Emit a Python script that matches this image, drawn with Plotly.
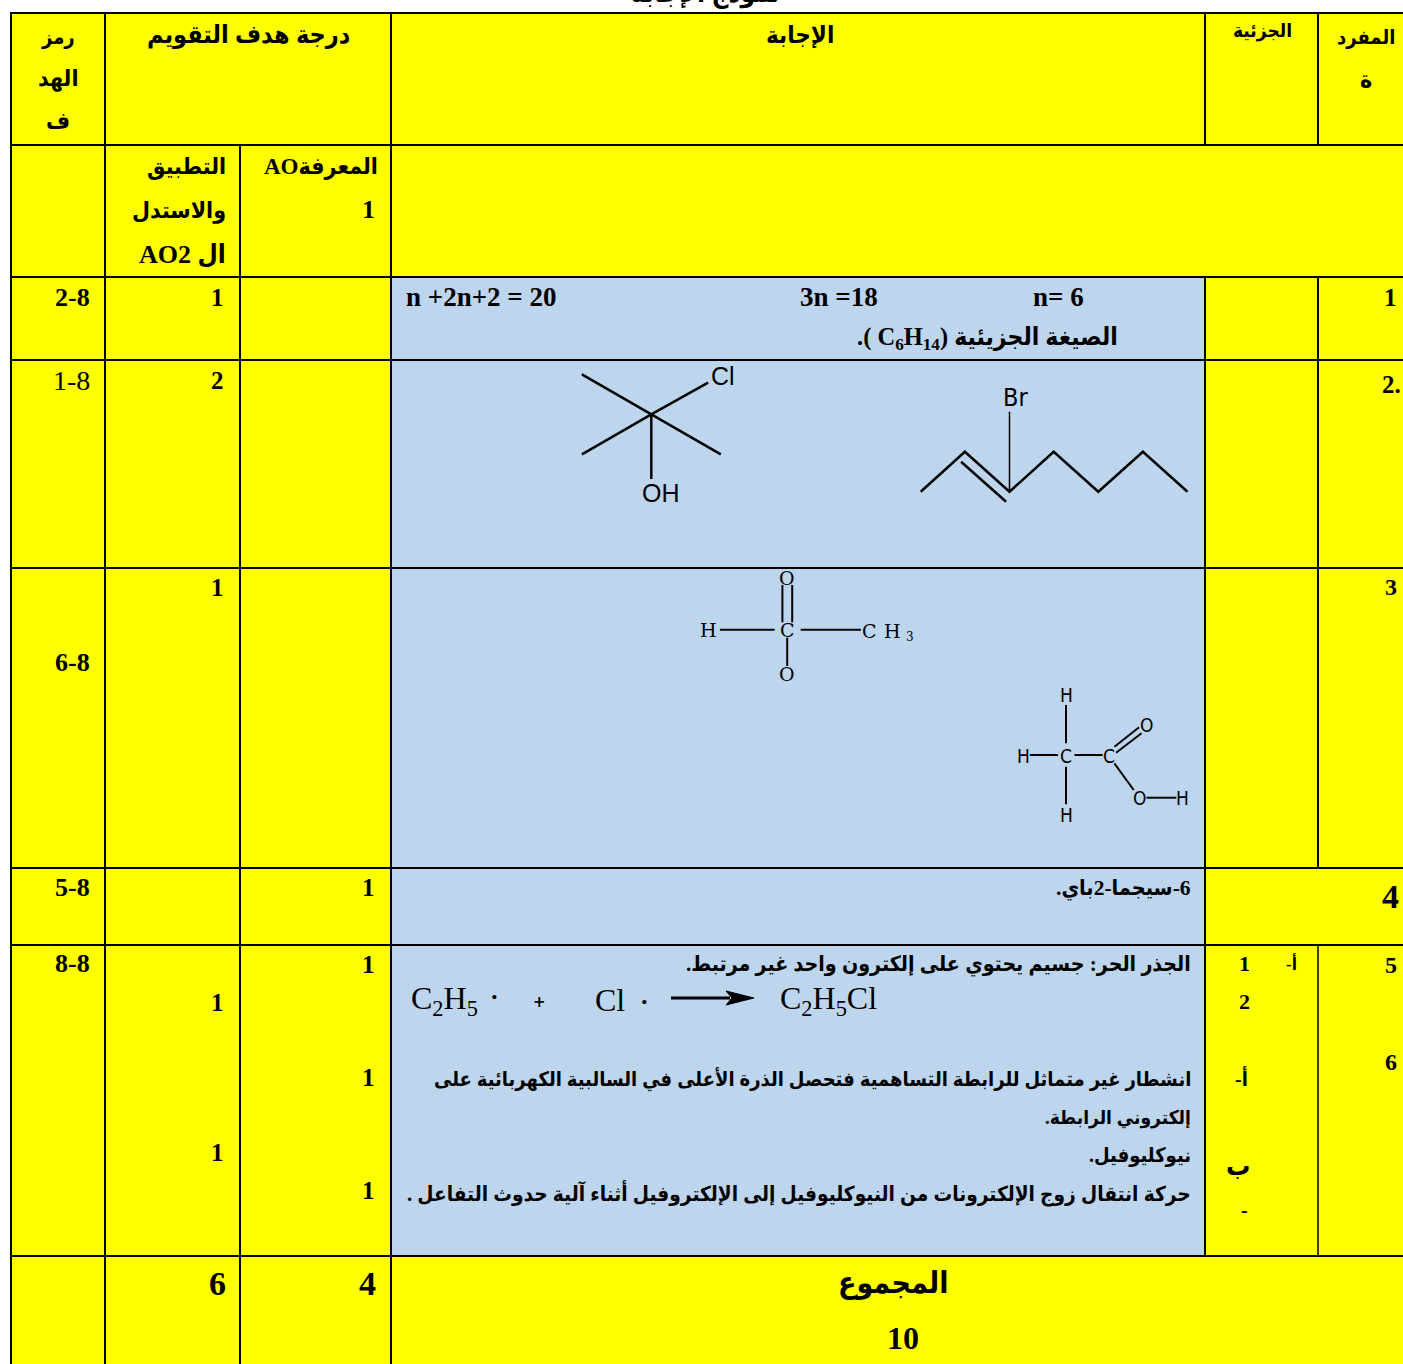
import plotly.graph_objects as go

# ---------- table structure (pixel grid) ----------
COL_EDGES = [11, 105, 240, 391, 1205, 1318, 1403]
ROW_EDGES = [13, 145, 277, 360, 568, 868, 945, 1256, 1364]
# vertical rule x-positions by row
RULES_BY_ROW = [
    [11, 105, 391, 1205, 1318],
    [11, 105, 240, 391],
    [11, 105, 240, 391, 1205, 1318],
    [11, 105, 240, 391, 1205, 1318],
    [11, 105, 240, 391, 1205, 1318],
    [11, 105, 240, 391, 1205],
    [11, 105, 240, 391, 1205, 1318],
    [11, 105, 240, 391],
]
BLUE_ROWS = [2, 3, 4, 5, 6]

YELLOW = "#FFFF00"
BLUE = "#BDD6EE"
SERIF = "Liberation Serif, DejaVu Sans Condensed, DejaVu Sans"
SANS = "Liberation Sans"
NARROW = "DejaVu Sans Condensed, Liberation Sans"
WIDE = "DejaVu Serif"

# ---------- texts ----------
TITLE = "نموذج الإجابة"
H_CODE = ["رمز", "الهد", "ف"]
H_GRADE = "درجة هدف التقويم"
H_ANSWER = "الإجابة"
H_PART = "الجزئية"
H_ITEM = ["المفرد", "ة"]
H_AO1 = ["المعرفةAO", "1"]
H_AO2 = ["التطبيق", "والاستدل", "ال AO2"]
CODES = ["2-8", "1-8", "6-8", "5-8", "8-8"]
ITEMS = ["1", "2.", "3", "4", "5", "6"]
EQ = ["n +2n+2 = 20", "3n =18", "n= 6"]
FORMULA = "الصيغة الجزيئية (C<sub>6</sub>H<sub>14</sub> )."
SIGMA = "6-سيجما-2باي."
RADICAL = "الجذر الحر: جسيم يحتوي على إلكترون واحد غير مرتبط."
HETERO = ["انشطار غير متماثل للرابطة التساهمية فتحصل الذرة الأعلى في السالبية الكهربائية على",
          "إلكتروني الرابطة."]
NUCLEO = "نيوكليوفيل."
MECH = "حركة انتقال زوج الإلكترونات من النيوكليوفيل إلى الإلكتروفيل أثناء آلية حدوث التفاعل ."
TOTAL_LABEL = "المجموع"
TOTAL = ["6", "4", "10"]

# ---------- molecule bonds: [(x, y), ...] polylines ----------
THICK_BONDS = [
    [(581.9, 374.3), (651.3, 414.3), (720.8, 454.3)],
    [(581.9, 454.3), (651.3, 414.3), (708.1, 382.7)],
    [(651.3, 414.3), (651.3, 479)],
    [(920.7, 491.7), (964.9, 451.7), (1009.5, 491.7), (1053.7, 451.7),
     (1098.3, 491.7), (1142.9, 451.7), (1187.5, 491.7)],
    [(961.1, 461.7), (1006.1, 501.7)],
]
MID_BONDS = [
    [(782.4, 585), (782.4, 622.3)],
    [(792.2, 585), (792.2, 622.3)],
    [(719.9, 629.7), (774.7, 629.7)],
    [(800.7, 629.7), (860.9, 629.7)],
    [(787.2, 637.7), (787.2, 666)],
    [(1066, 705), (1066, 743.3)],
    [(1066, 766.7), (1066, 804.3)],
    [(1029.9, 755), (1058, 755)],
    [(1074.5, 755), (1102.6, 755)],
    [(1114.4, 746.7), (1139.1, 727.3)],
    [(1116.1, 752.7), (1141.5, 733.3)],
    [(1114.4, 763.3), (1133.7, 790)],
    [(1146.5, 797.7), (1176.3, 797.7)],
]
THIN_BONDS = [
    [(1009.5, 411.7), (1009.5, 491.7)],
]
ARROW_SHAFT = [(671, 998), (730, 998)]
ARROW_HEAD = [(726, 991), (754, 998), (726, 1005), (732, 998), (726, 991)]


def poly_trace(lines, width):
    xs, ys = [], []
    for ln in lines:
        xs += [p[0] for p in ln] + [None]
        ys += [p[1] for p in ln] + [None]
    return go.Scatter(x=xs, y=ys, mode="lines", hoverinfo="skip", showlegend=False,
                      line=dict(color="black", width=width))


fig = go.Figure()
fig.add_trace(poly_trace(THICK_BONDS, 2.5))
fig.add_trace(poly_trace(MID_BONDS, 2))
fig.add_trace(poly_trace(THIN_BONDS, 1.5))
fig.add_trace(poly_trace([ARROW_SHAFT], 3))
fig.add_trace(go.Scatter(x=[p[0] for p in ARROW_HEAD], y=[p[1] for p in ARROW_HEAD], mode="lines",
                         fill="toself", fillcolor="black", line=dict(color="black", width=1),
                         hoverinfo="skip", showlegend=False))

shapes = []
for i in range(len(ROW_EDGES) - 1):
    y0, y1 = ROW_EDGES[i], ROW_EDGES[i + 1]
    shapes.append(dict(type="rect", x0=COL_EDGES[0], x1=COL_EDGES[-1], y0=y0, y1=y1,
                       fillcolor=YELLOW, line_width=0, layer="below"))
    if i in BLUE_ROWS:
        shapes.append(dict(type="rect", x0=391, x1=1205, y0=y0, y1=y1,
                           fillcolor=BLUE, line_width=0, layer="below"))
for i, rules in enumerate(RULES_BY_ROW):
    for x in rules:
        w = 1.5 if (i == 6 and x == 1318) else 2
        shapes.append(dict(type="line", x0=x, x1=x, y0=ROW_EDGES[i], y1=ROW_EDGES[i + 1],
                           line=dict(color="black", width=w), layer="below"))
for y in ROW_EDGES[:-1]:
    shapes.append(dict(type="line", x0=10, x1=1403, y0=y, y1=y,
                       line=dict(color="black", width=2), layer="below"))

ann = []


def rtl(s):
    if any("\u0600" <= c <= "\u06ff" for c in s):
        return "\u202b" + s + "\u202c"
    return s


def put(x, y, s, size, anchor="right", family=SERIF, bold=True, yanchor="middle"):
    ann.append(dict(x=x, y=y, xref="x", yref="y", text=rtl(s), showarrow=False,
                    xanchor=anchor, yanchor=yanchor, borderpad=0, borderwidth=0,
                    font=dict(family=family, size=size, color="black",
                              weight="bold" if bold else "normal")))


# header
put(705, 9, TITLE, 26, "center", yanchor="bottom")
put(58, 37, H_CODE[0], 20, "center")
put(58, 79, H_CODE[1], 23, "center")
put(58, 121, H_CODE[2], 23, "center")
put(248, 35, H_GRADE, 25, "center")
put(800, 35, H_ANSWER, 24, "center")
put(1262, 31, H_PART, 19, "center")
put(1366, 37, H_ITEM[0], 20, "center")
put(1366, 79, H_ITEM[1], 23, "center")
put(378, 167, H_AO1[0], 23)
put(375, 209, H_AO1[1], 26)
put(226, 167, H_AO2[0], 23)
put(226, 211, H_AO2[1], 23)
put(226, 254, H_AO2[2], 26)
# number columns
for x, y, s in [(90, 297, CODES[0]), (90, 662, CODES[2]),
                (90, 887, CODES[3]), (90, 963, CODES[4])]:
    put(x, y, s, 26)
put(90, 380, CODES[1], 28, bold=False)
for x, y, s in [(224, 297, "1"), (224, 380, "2"), (224, 587, "1"), (375, 887, "1"),
                (375, 964, "1"), (224, 1002, "1"), (375, 1077, "1"), (224, 1152, "1"),
                (375, 1190, "1")]:
    put(x, y, s, 25)
put(1397, 297, ITEMS[0], 25)
put(1401, 384, ITEMS[1], 25)
put(1397, 587, ITEMS[2], 24)
put(1399, 896, ITEMS[3], 34)
put(1397, 965, ITEMS[4], 24)
put(1397, 1062, ITEMS[5], 24)
# answers
put(406, 297, EQ[0], 27, "left")
put(800, 297, EQ[1], 27, "left")
put(1033, 297, EQ[2], 27, "left")
put(1118, 338, FORMULA, 24.5)
put(1191, 888, SIGMA, 21.5)
put(1191, 964, RADICAL, 21.2)
put(1191, 1079, HETERO[0], 20)
put(1191, 1118, HETERO[1], 19)
put(1191, 1155, NUCLEO, 20)
put(1191, 1193, MECH, 20.7)
# part column
put(1244, 963, "1", 22, "center")
put(1291, 963, "أ-", 17, "center")
put(1244, 1001, "2", 22, "center")
put(1241, 1077, "أ-", 20, "center")
put(1238, 1166, "ب", 27, "center")
put(1244, 1210, "-", 20, "center")
# totals
put(226, 1283, TOTAL[0], 34)
put(376, 1283, TOTAL[1], 34)
put(893, 1283, TOTAL_LABEL, 30, "center")
put(903, 1338, TOTAL[2], 32, "center")
# molecule labels
put(723, 375.7, "Cl", 25, "center", SANS, False)
put(661, 493.3, "OH", 25, "center", SANS, False)
put(1015.8, 397.3, "Br", 25, "center", NARROW, False)
for x, y, s in [(787.2, 577.7, "O"), (787.2, 630, "C"), (787.2, 674, "O"), (708, 630, "H"),
                (869.3, 630.5, "C"), (892, 630.5, "H")]:
    put(x, y, s, 19, "center", WIDE, False)
put(909.5, 637, "3", 12, "center", WIDE, False)
for x, y, s in [(1066.4, 695, "H"), (1066, 755.7, "C"), (1023.1, 755.7, "H"), (1108.7, 755.7, "C"),
                (1146.2, 725, "O"), (1139.1, 797.7, "O"), (1182.7, 797.7, "H"), (1066.4, 815, "H")]:
    put(x, y, s, 19, "center", NARROW, False)
# reaction
put(411, 1000, "C<sub>2</sub>H<sub>5</sub>", 32, "left", "Liberation Serif", False)
put(494.6, 996, "·", 26, "center", "Liberation Serif", True)
put(539.6, 1002, "+", 15, "center", "DejaVu Sans", True)
put(610.3, 1000, "Cl", 32, "center", "Liberation Serif", False)
put(644.4, 1001, "·", 26, "center", "Liberation Serif", True)
put(780, 1000, "C<sub>2</sub>H<sub>5</sub>Cl", 32, "left", "Liberation Serif", False)

fig.update_layout(
    width=1403, height=1364, margin=dict(l=0, r=0, t=0, b=0),
    paper_bgcolor="white", plot_bgcolor="white", showlegend=False,
    xaxis=dict(range=[0, 1403], visible=False, fixedrange=True),
    yaxis=dict(range=[1364, 0], visible=False, fixedrange=True),
    shapes=shapes, annotations=ann,
)
fig.write_html("out.html", config={"displayModeBar": False},
               post_script="document.body.style.margin='0';document.body.style.overflow='hidden';")
